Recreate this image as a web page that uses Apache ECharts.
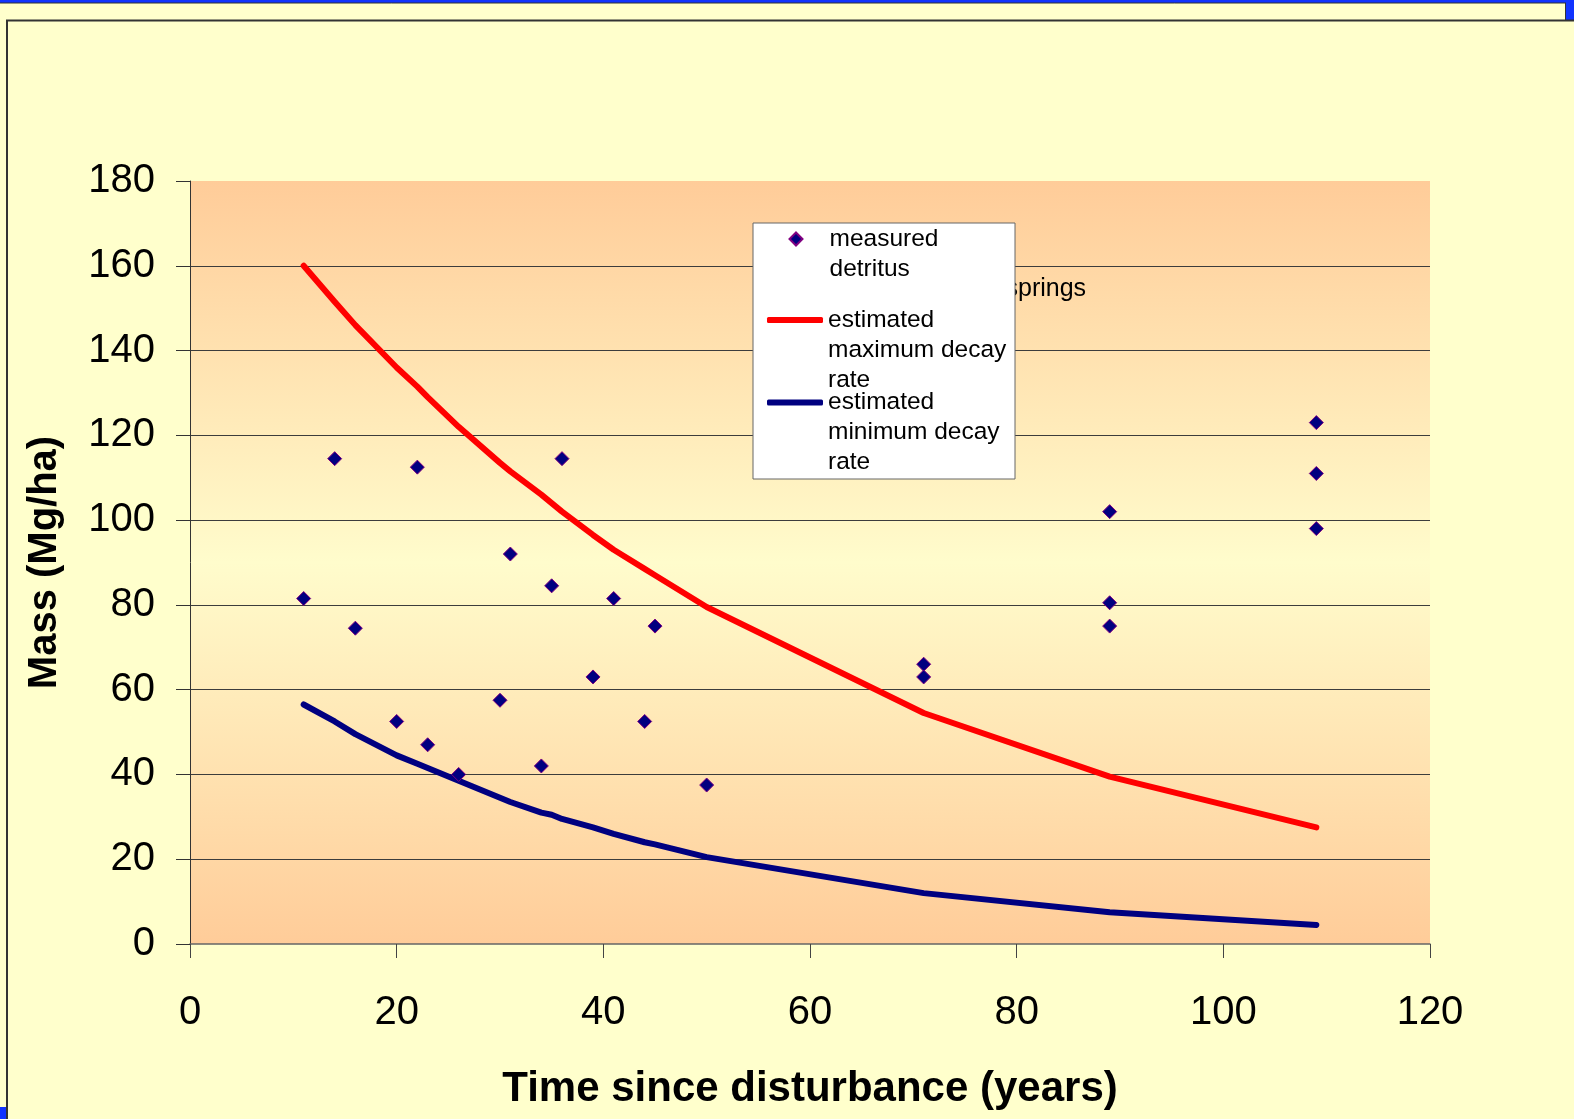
<!DOCTYPE html>
<html>
<head>
<meta charset="utf-8">
<script src="https://cdn.jsdelivr.net/npm/echarts@6/dist/echarts.min.js"></script>
<style>
  html, body { margin: 0; padding: 0; background-color: #ffffcc; }
  #chartDetritus { width: 1574px; height: 1119px; }
</style>
</head>
<body>
<div id="chartDetritus"></div>
<script>
// measured detritus, years since disturbance vs mass (Mg/ha)
const measuredYears = [11, 14, 16, 20, 22, 23, 26, 30, 31, 34, 35, 36, 39, 41, 44, 45, 50, 71, 71, 89, 89, 89, 109, 109, 109]
const measuredMass = [81.5, 114.5, 74.5, 52.5, 112.5, 47, 40, 57.5, 92, 42, 84.5, 114.5, 63, 81.5, 52.5, 75, 37.5, 66, 63, 102, 80.5, 75, 123, 111, 98]

// estimated curves, read at the same site ages
const curveYears = [11, 14, 16, 20, 22, 23, 26, 30, 31, 34, 35, 36, 39, 41, 44, 45, 50, 71, 89, 109]
const maxDecay = [160, 151.5, 146, 136, 131.5, 129, 122, 113.5, 111.5, 106, 104, 102, 96.5, 93, 88.5, 87, 79.5, 54.5, 39.5, 27.5]
const minDecay = [56.5, 52.5, 49.5, 44.5, 42.5, 41.5, 38.5, 34.5, 33.5, 31, 30.5, 29.5, 27.5, 26, 24, 23.5, 20.5, 12, 7.5, 4.5]

const xTicks = [0, 20, 40, 60, 80, 100, 120]
const yTicks = [0, 20, 40, 60, 80, 100, 120, 140, 160, 180]

const seriesNames = ['measured detritus', 'estimated maximum decay rate', 'estimated minimum decay rate']
// blank leading lines keep the legend icon level with the first text line
const legendLines = {
  'measured detritus': '{s|}\n{s|}measured\n{s|}detritus',
  'estimated maximum decay rate': '{b|}\n{b|}\nestimated\nmaximum decay\nrate',
  'estimated minimum decay rate': '{b|}\n{b|}\nestimated\nminimum decay\nrate'
}

const fontName = 'Liberation Sans, Arial, sans-serif'

function pairs (xs, ys) {
  return xs.map(function (x, i) { return [x, ys[i]] })
}

function legendFor (name, top, left, itemWidth, itemHeight, icon) {
  return {
    data: [name],
    icon: icon,
    left: left,
    top: top,
    padding: 0,
    itemWidth: itemWidth,
    itemHeight: itemHeight,
    selectedMode: false,
    z: 10,
    formatter: function (n) { return legendLines[n] },
    textStyle: {
      fontFamily: fontName,
      fontSize: 24.5,
      lineHeight: 30,
      color: '#000',
      rich: {
        s: { width: 22, lineHeight: 30 },
        b: { width: 1, lineHeight: 30 }
      }
    }
  }
}

function draw () {
  const chart = echarts.init(document.getElementById('chartDetritus'))
  const option = {
    backgroundColor: '#ffffcc',
    animation: false,
    grid: {
      left: 190,
      top: 181,
      right: 144,
      bottom: 175,
      show: true,
      borderWidth: 0,
      backgroundColor: {
        type: 'linear',
        x: 0, y: 0, x2: 0, y2: 1,
        colorStops: [
          { offset: 0, color: '#ffcc99' },
          { offset: 0.5, color: '#fffccc' },
          { offset: 1, color: '#ffcc99' }
        ]
      }
    },
    legend: [
      legendFor(seriesNames[0], 194, 788.5, 13, 13, 'diamond'),
      legendFor(seriesNames[1], 245, 767, 56, 6, 'roundRect'),
      legendFor(seriesNames[2], 327.5, 767, 56, 6, 'roundRect')
    ],
    graphic: [
      { type: 'rect', shape: { x: 0, y: 0, width: 1574, height: 3 }, style: { fill: '#1133ff' } },
      { type: 'rect', shape: { x: 1566, y: 0, width: 8, height: 21 }, style: { fill: '#1133ff' } },
      { type: 'line', shape: { x1: 0, y1: 3, x2: 1566, y2: 3 }, style: { stroke: '#333', lineWidth: 1 } },
      { type: 'line', shape: { x1: 1565.5, y1: 3, x2: 1565.5, y2: 20 }, style: { stroke: '#333', lineWidth: 1 } },
      { type: 'line', shape: { x1: 6, y1: 20.5, x2: 1574, y2: 20.5 }, style: { stroke: '#333', lineWidth: 2 } },
      { type: 'line', shape: { x1: 7, y1: 20, x2: 7, y2: 1119 }, style: { stroke: '#333', lineWidth: 2 } },
      { type: 'rect', shape: { x: 0, y: 1107, width: 6, height: 12 }, style: { fill: '#1133ff' } },
      {
        type: 'text', z: 1, x: 1005.5, y: 289,
        style: { text: 'springs', fontFamily: fontName, fontSize: 25, fill: '#000', verticalAlign: 'middle' }
      },
      {
        type: 'rect', z: 5, shape: { x: 753, y: 223, width: 262, height: 256 },
        style: { fill: '#ffffff', stroke: '#666666', lineWidth: 1 }
      }
    ],
    xAxis: {
      type: 'value',
      min: xTicks[0],
      max: xTicks[xTicks.length - 1],
      interval: 20,
      name: 'Time since disturbance (years)',
      nameLocation: 'middle',
      nameGap: 124,
      nameTextStyle: { fontFamily: fontName, fontSize: 42, fontWeight: 'bold', color: '#000' },
      axisLine: { show: true, lineStyle: { color: '#666', width: 1.5 } },
      axisTick: { show: true, inside: false, length: 14, lineStyle: { color: '#444' } },
      axisLabel: { fontFamily: fontName, fontSize: 40, color: '#000', margin: 49 },
      splitLine: { show: false }
    },
    yAxis: {
      type: 'value',
      min: yTicks[0],
      max: yTicks[yTicks.length - 1],
      interval: 20,
      name: 'Mass (Mg/ha)',
      nameLocation: 'middle',
      nameGap: 125,
      nameTextStyle: { fontFamily: fontName, fontSize: 40, fontWeight: 'bold', color: '#000' },
      axisLine: { show: true, lineStyle: { color: '#333', width: 1 } },
      axisTick: { show: true, inside: false, length: 14, lineStyle: { color: '#333' } },
      axisLabel: { fontFamily: fontName, fontSize: 40, color: '#000', margin: 35 },
      splitLine: { show: true, showMaxLine: false, showMinLine: false, lineStyle: { color: '#3c3c3c', width: 1 } }
    },
    series: [
      {
        name: seriesNames[0],
        type: 'scatter',
        symbol: 'diamond',
        symbolSize: 14,
        z: 4,
        itemStyle: { color: '#000080', borderColor: '#800080', borderWidth: 1, opacity: 1 },
        data: pairs(measuredYears, measuredMass)
      },
      {
        name: seriesNames[1],
        type: 'line',
        symbol: 'none',
        color: '#ff0000',
        lineStyle: { color: '#ff0000', width: 6, cap: 'round', join: 'round' },
        data: pairs(curveYears, maxDecay)
      },
      {
        name: seriesNames[2],
        type: 'line',
        symbol: 'none',
        color: '#000080',
        lineStyle: { color: '#000080', width: 6, cap: 'round', join: 'round' },
        data: pairs(curveYears, minDecay)
      }
    ]
  }
  chart.setOption(option)
}

draw()
</script>
</body>
</html>
